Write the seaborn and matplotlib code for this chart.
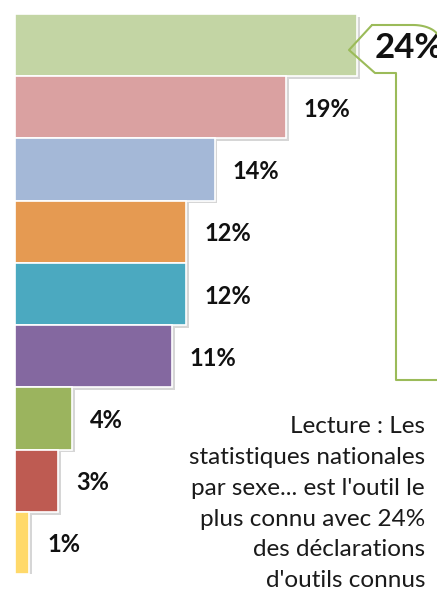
import matplotlib
matplotlib.use("Agg")
import numpy as np
import pandas as pd
import matplotlib.pyplot as plt
import matplotlib.patheffects as pe
from matplotlib.lines import Line2D
import seaborn as sns

# donnees
outils = ["Statistiques nationales par sexe", "Outil 2", "Outil 3", "Outil 4",
          "Outil 5", "Outil 6", "Outil 7", "Outil 8", "Outil 9"]
parts = [24, 19, 14, 12, 12, 11, 4, 3, 1]
etiquettes = [f"{p}%" for p in parts]
couleurs = ["#C3D5A4", "#DAA1A1", "#A4B8D7", "#E59A52", "#4BA9C0",
            "#8468A0", "#9BB45E", "#BE5B52", "#FFD96A"]
lecture = ("Lecture : Les\nstatistiques nationales\npar sexe... est l'outil le\n"
           "plus connu avec 24%\ndes déclarations\nd'outils connus")

sns.set_theme(style="white")
plt.rcParams["font.family"] = ["Lato", "DejaVu Sans"]

W, H = 437, 590
fig = plt.figure(figsize=(W / 100, H / 100), dpi=100)
ax = fig.add_axes([15 / W, 16 / H, 422 / W, 560 / H])

df = pd.DataFrame({"outil": outils, "part": parts})
sns.barplot(data=df, x="part", y="outil", hue="outil", palette=couleurs,
            saturation=1, orient="h", width=1.0, edgecolor="white",
            linewidth=1.2, legend=False, ax=ax)

ombre = [pe.SimplePatchShadow(offset=(2, -2), shadow_rgbFace="#999999", alpha=0.4),
         pe.Normal()]
for p in ax.patches:
    p.set_path_effects(ombre)

# etiquettes des valeurs
for i, (c, lab) in enumerate(zip(ax.containers, etiquettes)):
    txt = ax.bar_label(c, labels=[lab], padding=13, fontsize=17,
                       fontweight="bold", color="#111111")
    txt[0].set_va("center_baseline")
    if i == 0:
        txt[0].set_fontsize(25)

ax.set_xlim(0, 422 / 14.25)
ax.set_ylim(8.5, -0.5)
ax.set_axis_off()

# bulle de la premiere barre
vert = "#9BBB59"
t = np.linspace(0, np.pi / 2, 20)
arc_x = 413 + 26 * np.sin(t)
arc_y = 25 + 14 * (1 - np.cos(t))
bx = [372, 349, 375, 396, 396, 440]
by = [25, 50, 73, 73, 380, 380]
fig.add_artist(Line2D(np.array(bx) / W, 1 - np.array(by) / H, color=vert,
                      lw=1.5, transform=fig.transFigure))
fig.add_artist(Line2D(np.r_[372, arc_x] / W, 1 - np.r_[25, arc_y] / H,
                      color=vert, lw=1.5, transform=fig.transFigure))

fig.text(425 / W, 1 - 416 / H, lecture, ha="right", va="top", fontsize=17.5,
         color="#1a1a1a", linespacing=1.58)

fig.savefig("out.png", dpi=100)
